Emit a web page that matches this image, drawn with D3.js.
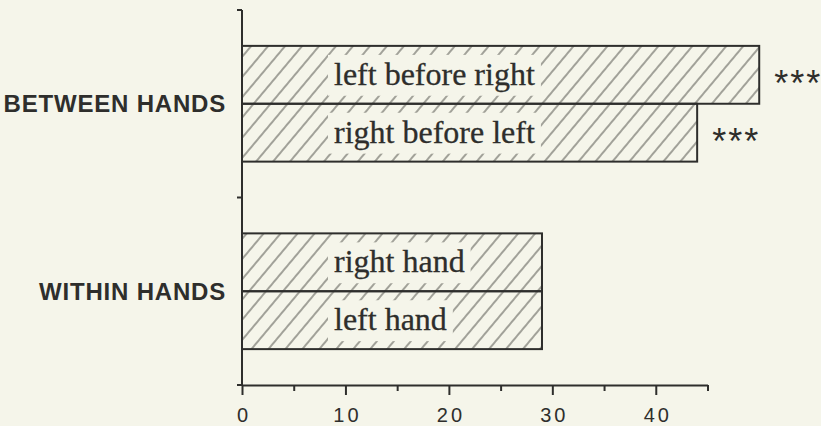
<!DOCTYPE html>
<html>
<head>
<meta charset="utf-8">
<script src="https://cdn.jsdelivr.net/npm/d3@7"></script>
<style>
  html, body { margin: 0; padding: 0; background: #f5f5ea; }
  svg { display: block; }
</style>
</head>
<body>
<script>
const w = 821;
const h = 426;

// data
const groups = ["BETWEEN HANDS", "WITHIN HANDS"];
const conditions = ["left before right", "right before left", "right hand", "left hand"];
const conditionGroup = ["BETWEEN HANDS", "BETWEEN HANDS", "WITHIN HANDS", "WITHIN HANDS"];
const values = [50, 44, 29, 29];
const stars = ["***", "***", "", ""];
const majorTicks = [0, 10, 20, 30, 40];
const minorTicks = [5, 15, 25, 35, 45];

const ink = "#2e2e2c";
const bg = "#f5f5ea";

const svg = d3.select("body").append("svg").attr("width", w).attr("height", h);

const xScale = d3.scaleLinear().domain([0, 45]).range([242, 707.5]);
const yScale = d3.scaleBand().domain(groups).range([10, 385]);
const inner = d3.scaleBand().domain([0, 1]).range([0, yScale.bandwidth()]).paddingOuter(0.62);

const data = conditions.map((c, i) => ({
  label: c,
  group: conditionGroup[i],
  idx: conditionGroup.slice(0, i).filter((g) => g === conditionGroup[i]).length,
  value: values[i],
  stars: stars[i]
}));

// hatch
const defs = svg.append("defs");
defs.append("pattern")
  .attr("id", "hatch")
  .attr("patternUnits", "userSpaceOnUse")
  .attr("width", 13)
  .attr("height", 13)
  .attr("patternTransform", "rotate(40)")
  .append("line")
  .attr("x1", 1).attr("y1", 0).attr("x2", 1).attr("y2", 13)
  .attr("stroke", "#4e4e48")
  .attr("stroke-width", 1);

const barY = (d) => yScale(d.group) + inner(d.idx);

const bars = svg.selectAll(".bar").data(data).enter().append("g").attr("class", "bar");

bars.append("rect")
  .attr("x", xScale(0))
  .attr("y", barY)
  .attr("width", (d) => xScale(d.value) - xScale(0))
  .attr("height", inner.bandwidth())
  .attr("fill", "url(#hatch)")
  .attr("stroke", ink)
  .attr("stroke-width", 2);

// text labels with knocked-out hatch behind
const labels = bars.append("text")
  .attr("x", 334)
  .attr("y", (d) => barY(d) + inner.bandwidth() / 2 + 10)
  .attr("font-family", "'Liberation Serif', 'Times New Roman', serif")
  .attr("font-size", 32)
  .attr("fill", ink)
  .attr("stroke", ink)
  .attr("stroke-width", 0.3)
  .text((d) => d.label);

labels.each(function (d) {
  const bb = this.getBBox();
  d3.select(this.parentNode)
    .insert("rect", "text")
    .attr("x", bb.x - 6)
    .attr("y", barY(d) + 9)
    .attr("width", bb.width + 12)
    .attr("height", inner.bandwidth() - 17)
    .attr("fill", bg);
});

bars.append("text")
  .attr("x", (d) => xScale(d.value) + 15)
  .attr("y", (d) => barY(d) + inner.bandwidth() / 2 + 21)
  .attr("font-family", "'Liberation Sans', Arial, sans-serif")
  .attr("font-size", 36)
  .attr("letter-spacing", 2)
  .attr("fill", ink)
  .text((d) => d.stars);

// x axis
const xAxis = d3.axisBottom(xScale).tickValues(majorTicks).tickSize(10).tickSizeOuter(0).tickPadding(13);
const gx = svg.append("g").attr("transform", `translate(0,${yScale.range()[1]})`).call(xAxis);
gx.select(".domain").attr("stroke", ink).attr("stroke-width", 2);
gx.selectAll(".tick line").attr("stroke", ink).attr("stroke-width", 2);
gx.selectAll(".tick text")
  .attr("font-family", "'Liberation Sans', Arial, sans-serif")
  .attr("font-size", 20)
  .attr("letter-spacing", 3)
  .attr("dx", 1.5)
  .attr("fill", ink);

const gxm = svg.append("g").attr("transform", `translate(0,${yScale.range()[1]})`)
  .call(d3.axisBottom(xScale).tickValues(minorTicks).tickSize(6).tickSizeOuter(0).tickFormat(""));
gxm.select(".domain").remove();
gxm.selectAll(".tick line").attr("stroke", ink).attr("stroke-width", 2);

// y axis: line with ticks at the group boundaries
const gy = svg.append("g");
gy.append("line")
  .attr("x1", xScale(0)).attr("x2", xScale(0))
  .attr("y1", yScale.range()[0]).attr("y2", yScale.range()[1])
  .attr("stroke", ink).attr("stroke-width", 2);
const bounds = groups.map((g) => yScale(g)).concat([yScale.range()[1]]);
gy.selectAll(".yt").data(bounds).enter().append("line")
  .attr("x1", xScale(0) - 5).attr("x2", xScale(0))
  .attr("y1", (d) => d).attr("y2", (d) => d)
  .attr("stroke", ink).attr("stroke-width", 2);

gy.selectAll(".glabel").data(groups).enter().append("text")
  .attr("x", 226)
  .attr("y", (d) => yScale(d) + yScale.bandwidth() / 2)
  .attr("dy", "0.35em")
  .attr("text-anchor", "end")
  .attr("font-family", "'Liberation Sans', Arial, sans-serif")
  .attr("font-weight", "bold")
  .attr("font-size", 24)
  .attr("letter-spacing", 0.8)
  .attr("fill", ink)
  .text((d) => d);
</script>
</body>
</html>
